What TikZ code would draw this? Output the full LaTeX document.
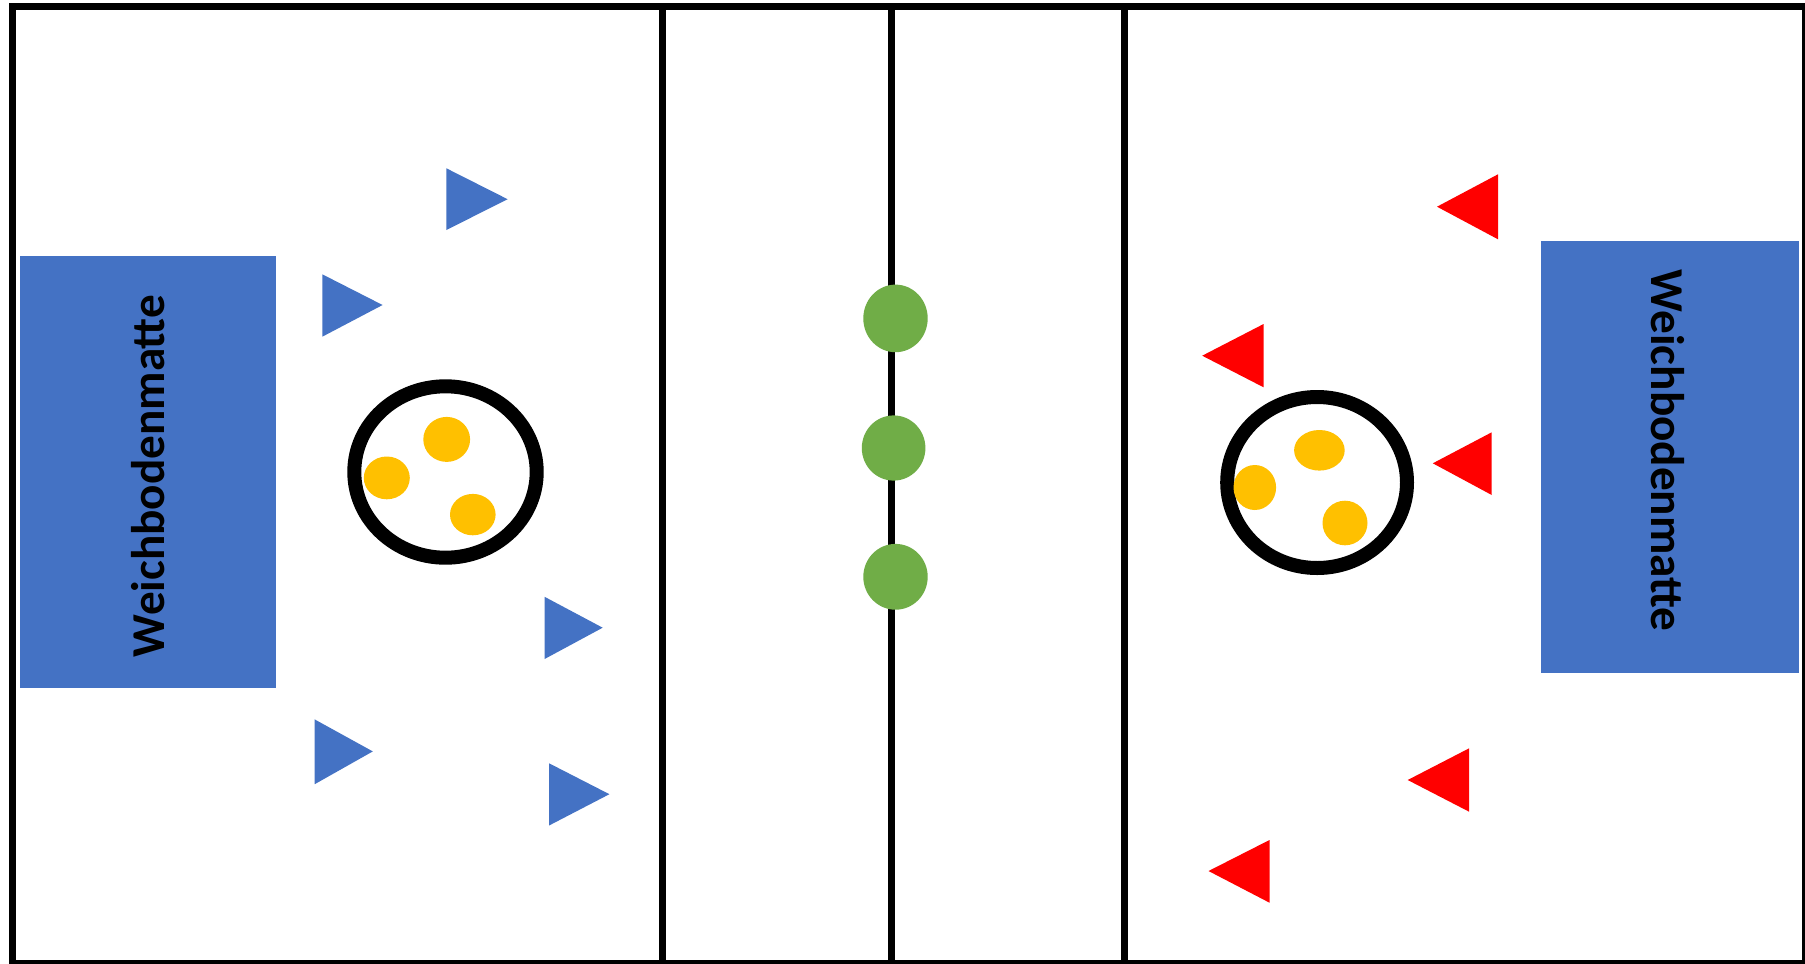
\documentclass[tikz,border=0pt]{standalone}
\usepackage{fontspec}
\setmainfont{Carlito}
\definecolor{matblue}{HTML}{4472C4}
\definecolor{tred}{HTML}{FF0000}
\definecolor{ballyellow}{HTML}{FFC000}
\definecolor{ballgreen}{HTML}{70AD47}
\tikzset{
  courtline/.style={line width=3.5pt, draw=black},
  matbox/.style={fill=matblue},
  mattext/.style={inner sep=0pt, font=\fontsize{23.6}{28}\selectfont\bfseries, text=black},
  bluetri/.style={fill=matblue},
  redtri/.style={fill=tred},
  ring/.style={draw=black, line width=7pt, fill=white},
  yball/.style={fill=ballyellow},
  gball/.style={fill=ballgreen},
}
\begin{document}
\begin{tikzpicture}[x=0.5pt,y=-0.5pt]
\useasboundingbox (0,0) rectangle (1805,964);
\fill[white] (0,0) rectangle (1805,964);

% court lines
\coordinate (l1t) at (662.6,6); \coordinate (l1b) at (662.6,963);
\coordinate (l2t) at (891,6); \coordinate (l2b) at (891,963);
\coordinate (l3t) at (1124.5,6); \coordinate (l3b) at (1124.5,963);
\draw[courtline] (l1t) -- (l1b);
\draw[courtline] (l2t) -- (l2b);
\draw[courtline] (l3t) -- (l3b);
\draw[courtline] (12.3,6.3) rectangle (1805.5,963.5);

% mats
\fill[matbox] (19.5,255.7) rectangle (276,687.8);
\fill[matbox] (1541.4,241) rectangle (1798.7,673);
\node[mattext, rotate=90] (matL) at (148.5,476) {Weichbodenmatte};
\node[mattext, rotate=-90] (matR) at (1668,450.5) {Weichbodenmatte};

% blue triangles (pointing right)
\fill[bluetri] (446.4,168.3) -- (446.4,230) -- (507.6,199.2) -- cycle;
\fill[bluetri] (322.3,274.3) -- (322.3,336.7) -- (382.6,305) -- cycle;
\fill[bluetri] (544.6,596.8) -- (544.6,659) -- (602.7,627.7) -- cycle;
\fill[bluetri] (314.7,719.4) -- (314.7,784.2) -- (372.8,751.4) -- cycle;
\fill[bluetri] (549.1,763.3) -- (549.1,825.5) -- (609.4,794.2) -- cycle;

% red triangles (pointing left)
\fill[redtri] (1498,174.3) -- (1498,239.3) -- (1437,206.7) -- cycle;
\fill[redtri] (1263.6,324) -- (1263.6,387.3) -- (1202.2,355.7) -- cycle;
\fill[redtri] (1491.7,432.3) -- (1491.7,495) -- (1432.8,463.3) -- cycle;
\fill[redtri] (1469.1,748.3) -- (1469.1,811.7) -- (1407.7,780) -- cycle;
\fill[redtri] (1269.5,840) -- (1269.5,902.7) -- (1208.5,871) -- cycle;

% rings with balls
\draw[ring] (445.5,472) ellipse [x radius=45.6pt, y radius=42.85pt];
\fill[yball] (446.7,439.4) ellipse [x radius=11.7pt, y radius=11.25pt];
\fill[yball] (386.8,477.9) ellipse [x radius=11.5pt, y radius=10.7pt];
\fill[yball] (472.8,514.6) ellipse [x radius=11.4pt, y radius=10.35pt];

\draw[ring] (1317.1,482.5) ellipse [x radius=44.95pt, y radius=42.75pt];
\fill[yball] (1319.4,450.3) ellipse [x radius=12.65pt, y radius=10.15pt];
\fill[yball] (1254.8,487.5) ellipse [x radius=10.65pt, y radius=11.25pt];
\fill[yball] (1345,523) ellipse [x radius=11.25pt, y radius=11.15pt];

% green balls on the centre line
\fill[gball] (895.5,318.4) ellipse [x radius=16.1pt, y radius=16.9pt];
\fill[gball] (893.6,448) ellipse [x radius=15.9pt, y radius=16.3pt];
\fill[gball] (895.5,576.8) ellipse [x radius=16.1pt, y radius=16.45pt];
\end{tikzpicture}
\end{document}
